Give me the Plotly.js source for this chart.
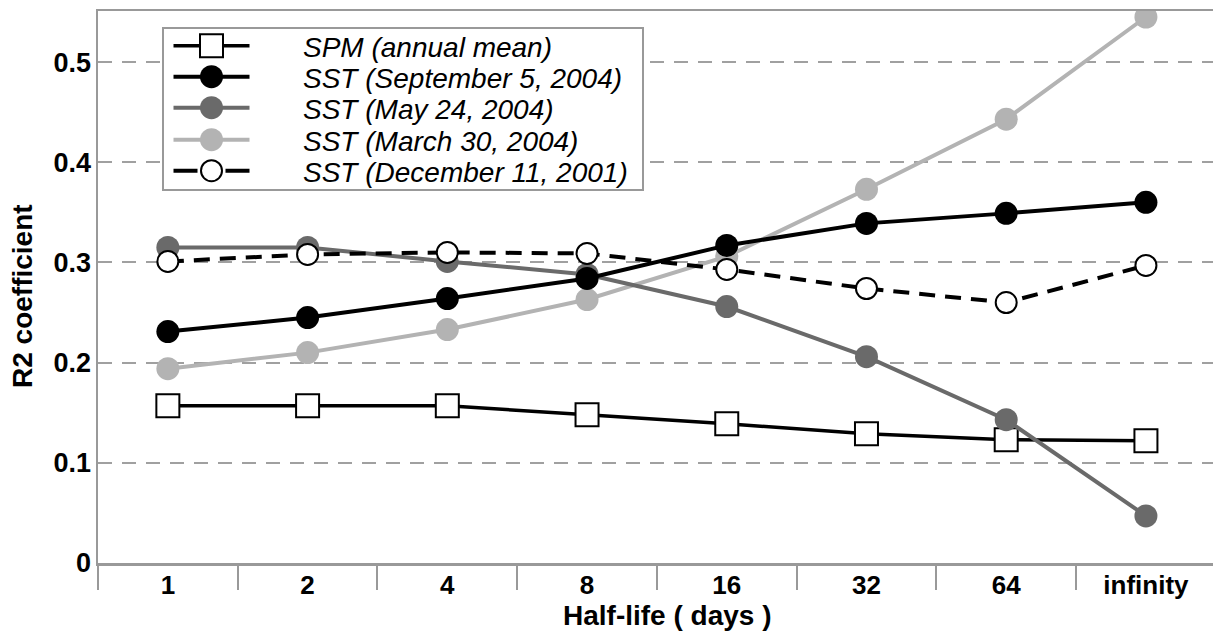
<!DOCTYPE html>
<html>
<head>
<meta charset="utf-8">
<script src="https://cdn.plot.ly/plotly-3.0.1.min.js"></script>
<style>html,body{margin:0;padding:0;background:#fff;}#chart{width:1213px;height:636px;}</style>
</head>
<body>
<div id="chart"></div>
<script>
// Data
const categories = ['1', '2', '4', '8', '16', '32', '64', 'infinity'];
const spmAnnual = [0.157, 0.157, 0.157, 0.148, 0.139, 0.129, 0.123, 0.122];
const sstSep2004 = [0.231, 0.245, 0.264, 0.284, 0.317, 0.339, 0.349, 0.360];
const sstMay2004 = [0.315, 0.315, 0.301, 0.288, 0.256, 0.206, 0.143, 0.047];
const sstMar2004 = [0.194, 0.210, 0.233, 0.263, 0.306, 0.373, 0.443, 0.545];
const sstDec2001 = [0.301, 0.308, 0.310, 0.309, 0.293, 0.274, 0.260, 0.297];
const yTicks = [0, 0.1, 0.2, 0.3, 0.4, 0.5];
const yTickText = ['0', '0.1', '0.2', '0.3', '0.4', '0.5'];
const legendNames = ['SPM (annual mean)', 'SST (September 5, 2004)', 'SST (May 24, 2004)', 'SST (March 30, 2004)', 'SST (December 11, 2001)'];

const FONT = 'Liberation Sans, Arial, Helvetica, sans-serif';

// plot-area geometry helpers (pixels -> paper fractions)
const PL = 98, PW = 1115, PB = 563, PH = 552;
const px = v => (v - PL) / PW;
const py = v => (PB - v) / PH;

const traces = [
  {x: categories, y: spmAnnual, name: legendNames[0], legend: 'legend', mode: 'lines+markers',
   line: {color: '#000', width: 3.5}, marker: {symbol: 'square', size: 23, color: '#fff', line: {color: '#000', width: 2}}},
  {x: categories, y: sstMar2004, name: legendNames[3], legend: 'legend4', mode: 'lines+markers',
   line: {color: '#b3b3b3', width: 4}, marker: {symbol: 'circle', size: 23, color: '#b3b3b3'}},
  {x: categories, y: sstMay2004, name: legendNames[2], legend: 'legend3', mode: 'lines+markers',
   line: {color: '#6a6a6a', width: 4}, marker: {symbol: 'circle', size: 23, color: '#6a6a6a'}},
  {x: categories, y: sstSep2004, name: legendNames[1], legend: 'legend2', mode: 'lines+markers',
   line: {color: '#000', width: 4}, marker: {symbol: 'circle', size: 23, color: '#000'}},
  {x: categories, y: sstDec2001, name: legendNames[4], legend: 'legend5', mode: 'lines+markers',
   line: {color: '#000', width: 4, dash: '16px,10px'}, marker: {symbol: 'circle', size: 21, color: '#fff', line: {color: '#000', width: 2}}}
];

const rowY = [46, 77, 108, 140, 171];
function legendRow(i) {
  return {
    x: px(120), y: py(rowY[i]), xanchor: 'left', yanchor: 'middle',
    bgcolor: 'rgba(0,0,0,0)', borderwidth: 0, itemwidth: 173,
    font: {family: FONT, size: 28, style: 'italic', color: '#000'}
  };
}

const layout = {
  width: 1213, height: 636,
  margin: {l: 98, r: 0, t: 11, b: 73, pad: 0},
  paper_bgcolor: '#fff', plot_bgcolor: '#fff',
  font: {family: FONT, color: '#000'},
  showlegend: true,
  legend: legendRow(0), legend2: legendRow(1), legend3: legendRow(2), legend4: legendRow(3), legend5: legendRow(4),
  xaxis: {
    type: 'category', categoryorder: 'array', categoryarray: categories,
    range: [-0.5, 7.48], fixedrange: true,
    tickson: 'boundaries', ticks: 'outside', ticklen: 24, tickwidth: 2, tickcolor: '#999',
    ticklabelstandoff: -3,
    showline: true, linecolor: '#999', linewidth: 2.5, mirror: true,
    showgrid: false, zeroline: false,
    tickfont: {family: FONT, size: 26, weight: 'bold', color: '#000'}
  },
  yaxis: {
    range: [0, 0.551], fixedrange: true,
    tickmode: 'array', tickvals: yTicks, ticktext: yTickText,
    ticks: '', ticklabelstandoff: -1,
    showline: true, linecolor: '#999', linewidth: 2.5,
    showgrid: true, gridcolor: '#a0a0a0', gridwidth: 2, griddash: '14px,10px',
    zeroline: false,
    tickfont: {family: FONT, size: 27, weight: 'bold', color: '#000'}
  },
  shapes: [
    {type: 'rect', xref: 'paper', yref: 'paper', x0: px(163), x1: px(643), y0: py(190), y1: py(28),
     line: {color: '#999', width: 2}, fillcolor: '#fff', layer: 'above'}
  ],
  annotations: [
    {text: 'R2 coefficient', xref: 'paper', yref: 'paper', x: px(22), y: py(296),
     xanchor: 'center', yanchor: 'middle', textangle: -90, showarrow: false,
     font: {family: FONT, size: 28, weight: 'bold', color: '#000'}},
    {text: 'Half-life ( days )', xref: 'paper', yref: 'paper', x: px(667), y: py(615),
     xanchor: 'center', yanchor: 'middle', showarrow: false,
     font: {family: FONT, size: 28, weight: 'bold', color: '#000'}}
  ]
};

Plotly.newPlot('chart', traces, layout, {displayModeBar: false, staticPlot: true}).then(function (gd) {
  const plotTraces = gd.querySelectorAll('.scatterlayer .trace');
  gd.querySelectorAll('g.traces').forEach(function (item) {
    const pt = item.querySelector('.legendpoints path');
    const ln = item.querySelector('.legendlines path');
    if (!pt) return;
    let cx = 0;
    const m = /translate\(\s*([-0-9.]+)/.exec(pt.getAttribute('transform') || '');
    if (m) cx = parseFloat(m[1]);
    // use the same marker glyph size as in the plot
    let idx = -1;
    try { idx = item.__data__[0].trace.index; } catch (e) {}
    if (idx >= 0 && plotTraces[idx]) {
      const src = plotTraces[idx].querySelector('.points path');
      if (src) pt.setAttribute('d', src.getAttribute('d'));
    }
    if (ln) {
      ln.setAttribute('d', 'M' + (cx - 38) + ',0h76');
      const st = ln.getAttribute('style') || '';
      if (/stroke-dasharray:\s*[0-9]/.test(st)) ln.style.strokeDasharray = '24px,28px';
    }
  });
});
</script>
</body>
</html>
